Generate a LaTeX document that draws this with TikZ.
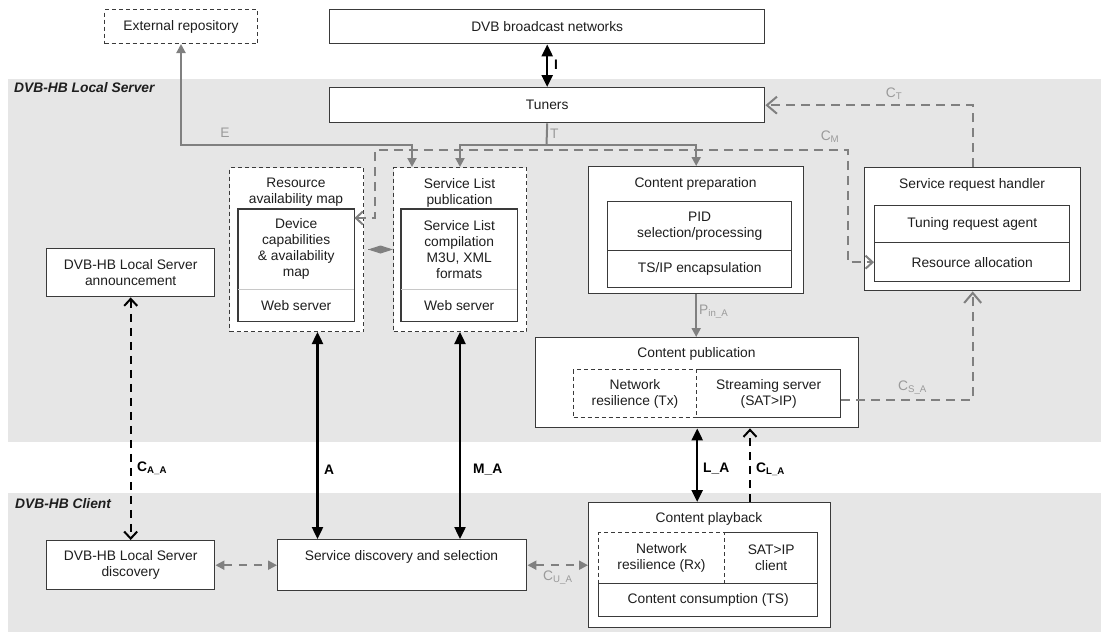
\documentclass[tikz,border=0pt]{standalone}
\usepackage{fontspec}
\setmainfont{Liberation Sans}
\usetikzlibrary{arrows.meta,calc}
\definecolor{bandc}{HTML}{E6E6E6}
\definecolor{edgec}{HTML}{3A3A3A}
\definecolor{linec}{HTML}{808080}
\definecolor{labc}{HTML}{9A9A9A}
\definecolor{txtc}{HTML}{1E1E1E}
\definecolor{divc}{HTML}{C8C8C8}
\tikzset{
  box/.style={draw=edgec, fill=white, line width=1.4pt, inner sep=0pt, align=center, text=txtc},
  dbox/.style={box, line width=1pt, dash pattern=on 4pt off 3pt},
  plain/.style={inner sep=0pt, align=center, text=txtc},
  gsolid/.style={draw=linec, line width=2pt},
  gdash/.style={draw=linec, line width=2pt, dash pattern=on 9pt off 6pt},
  ksolid/.style={draw=black, line width=2.4pt},
  kdash/.style={draw=black, line width=2.4pt, dash pattern=on 8pt off 6pt},
  glab/.style={inner sep=0pt, text=labc},
  klab/.style={inner sep=0pt, text=black, font=\fontsize{13.8}{16}\selectfont\bfseries},
  bandlab/.style={inner sep=0pt, anchor=west, text=txtc, font=\fontsize{13.8}{16}\selectfont\bfseries\itshape},
  GTri/.tip={Triangle[length=9pt,width=9pt]},
  KTri/.tip={Triangle[length=12pt,width=11pt]},
  OBarb/.tip={Straight Barb[length=10pt,width=17pt,line width=2pt]},
  SBarb/.tip={Straight Barb[length=7pt,width=13pt,line width=2pt]},
}
\newcommand\bx[7]{\node[#1, anchor=north west, minimum width={#4-#2}, minimum height={#5-#3}] (#6) at (#2,#3) {#7};}
\begin{document}
\begin{tikzpicture}[x=1pt,y=-1pt, font=\fontsize{13.8}{16}\selectfont]
\useasboundingbox (0,0) rectangle (1101,632);
% bands
\fill[bandc] (8,79) rectangle (1101,442);
\fill[bandc] (8,493) rectangle (1101,632);
\node[bandlab] (srvlab) at (14,88) {DVB-HB Local Server};
\node[bandlab] (clilab) at (15,504) {DVB-HB Client};

% top boxes
\bx{dbox}{104}{9}{257}{43}{ext}{External repository}
\bx{box}{329}{9}{764}{43}{dvb}{DVB broadcast networks}
\bx{box}{329}{87}{764}{122}{tun}{Tuners}

% resource availability map
\bx{dbox}{229}{167}{363}{331}{ram}{}
\node[plain] (ramT) at (296,192.5) {Resource\\availability map};
\bx{plain}{238}{209}{354}{289}{dev}{Device\\capabilities\\\& availability\\map}
\bx{plain}{238}{289}{354}{321}{devws}{Web server}
\draw[edgec, line width=1.4pt] (dev.north west) rectangle (devws.south east);
\draw[divc, line width=1pt] (dev.south west) -- (dev.south east);

% service list publication
\bx{dbox}{393}{167}{526}{331}{slp}{}
\node[plain] (slpT) at (459.5,192.5) {Service List\\publication};
\bx{plain}{401}{209}{517}{289}{slc}{Service List\\compilation\\M3U, XML\\formats}
\bx{plain}{401}{289}{517}{321}{slws}{Web server}
\draw[edgec, line width=1.4pt] (slc.north west) rectangle (slws.south east);
\draw[divc, line width=1pt] (slc.south west) -- (slc.south east);

\bx{box}{46}{248}{214}{296}{ann}{DVB-HB Local Server\\announcement}

% content preparation
\bx{box}{588}{166}{803}{293}{cp}{}
\node[plain] (cpT) at (695.5,184) {Content preparation};
\bx{box}{607}{201}{791}{250}{pid}{PID\\selection/processing}
\bx{box}{607}{250}{791}{287}{tsip}{TS/IP encapsulation}

% service request handler
\bx{box}{864}{167}{1080}{290}{srh}{}
\node[plain] (srhT) at (972,185) {Service request handler};
\bx{box}{874}{205}{1069}{242}{tra}{Tuning request agent}
\bx{box}{874}{242}{1069}{281}{ra}{Resource allocation}

% content publication
\bx{box}{535}{337}{858}{427}{cpub}{}
\node[plain] (cpubT) at (696.5,354) {Content publication};
\bx{box}{696}{369}{840}{417}{ss}{Streaming server\\(SAT>IP)}
\bx{dbox}{573}{369}{696}{417}{nrtx}{Network\\resilience (Tx)}

% client
\bx{box}{46}{540}{214}{589}{disc}{DVB-HB Local Server\\discovery}
\bx{box}{277}{539}{526}{590}{sds}{}
\node[plain] (sdsT) at (401.5,557) {Service discovery and selection};
\bx{box}{588}{502}{830}{627}{cpl}{}
\node[plain] (cplT) at (709,519) {Content playback};
\bx{box}{724}{532}{817}{583}{satc}{SAT>IP\\client}
\bx{dbox}{598}{532}{724}{583}{nrrx}{Network\\resilience (Rx)}
\bx{box}{598}{583}{817}{616}{cc}{Content consumption (TS)}

% ---- connectors ----
% I
\draw[ksolid, {KTri}-{KTri}] (dvb.south) -- (tun.north);
\node[klab, anchor=west] (lI) at (554,65) {I};
% T
\coordinate (tj) at (546.5,145);
\draw[gsolid] (tun.south) -- (tj);
\draw[gsolid, -{GTri}] (tj) -| (slp.north);
\draw[gsolid, -{GTri}] (tj) -| (cp.north);
\node[glab, anchor=west] (lT) at (550,134) {T};
% E
\coordinate (slpE) at ($(slp.north west)+(19,0)$);
\draw[gsolid, {GTri}-{GTri}] (ext.south) |- (412,145) -- (slpE);
\node[glab] (lE) at (225,133) {E};
% C_M
\draw[gdash, {SBarb}-{SBarb}] ($(dev.north east)+(0,9)$) -- (375,218) -- (375,150) -- (848,150) |- (ra.west);
\node[glab] (lCM) at (830,137) {C\textsubscript{M}};
% C_T
\draw[gdash, -{OBarb}] (srh.north) |- (tun.east);
\node[glab] (lCT) at (894,94) {C\textsubscript{T}};
% diamond link
\draw[draw=linec, line width=1pt, -{Diamond[length=25pt,width=8pt,fill=linec]}, shorten <=4pt] (ram.east) -- (slp.west);
% P_in_A
\draw[gsolid, -{GTri}] (cp.south) -- (cp.south |- cpub.north);
\node[glab, anchor=west] (lP) at (699,312) {P\textsubscript{in\_A}};
% C_S_A
\draw[gdash, -{OBarb}] ($(ss.east)+(0,6)$) -| (srh.south);
\node[glab, anchor=west] (lCS) at (898,388) {C\textsubscript{S\_A}};
% A and M_A
\coordinate (aTop) at ($(ram.south)+(21,0)$);
\draw[ksolid, {KTri}-{KTri}] (aTop) -- (aTop |- sds.north);
\node[klab, anchor=west] (lA) at (324,470) {A};
\draw[ksolid, {KTri}-{KTri}] (slp.south) -- (slp.south |- sds.north);
\node[klab, anchor=west] (lMA) at (473,470) {M\_A};
% C_A_A
\draw[kdash, {SBarb}-{SBarb}] (ann.south) -- (disc.north);
\node[klab, anchor=west] (lCA) at (137,468) {C\textsubscript{A\_A}};
% discovery <-> sds
\draw[gdash, dash pattern=on 8pt off 7pt, {GTri}-{GTri}] (disc.east) -- (sds.west);
% C_U_A
\draw[gdash, dash pattern=on 8pt off 7pt, {GTri}-{GTri}] (sds.east) -- (cpl.west);
\node[glab, anchor=west] (lCU) at (543,578) {C\textsubscript{U\_A}};
% L_A
\draw[ksolid, {KTri}-{KTri}] (cpub.south) -- (cpub.south |- cpl.north);
\node[klab, anchor=west] (lLA) at (703,469) {L\_A};
% C_L_A
\coordinate (clBot) at ($(cpl.north west)+(162,0)$);
\draw[kdash, -{SBarb}] (clBot) -- (clBot |- cpub.south);
\node[klab, anchor=west] (lCL) at (756,469) {C\textsubscript{L\_A}};
\end{tikzpicture}
\end{document}
